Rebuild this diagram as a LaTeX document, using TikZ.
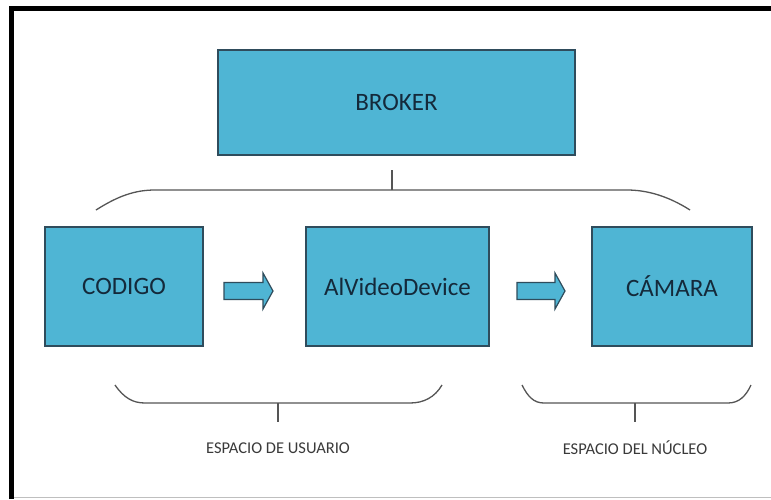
\documentclass[tikz,border=0pt]{standalone}
\usepackage{fontspec}
\setmainfont{Carlito}
\definecolor{boxfill}{HTML}{4FB5D4}
\definecolor{boxline}{HTML}{2F4C5C}
\definecolor{boxtext}{HTML}{14293A}
\definecolor{bracecol}{HTML}{555555}
\definecolor{labeltext}{HTML}{3A3A3A}
\tikzset{
  block/.style={draw=boxline, line width=1.2pt, fill=boxfill, text=boxtext,
    font=\fontsize{25}{30}\selectfont, inner sep=0pt, minimum height=119pt},
  blockarrow/.style={draw=boxline, line width=1.2pt, fill=boxfill, line join=miter},
  brace/.style={draw=bracecol, line width=1.3pt},
  spacelabel/.style={text=labeltext, font=\fontsize{16.5}{20}\selectfont, inner sep=0pt},
}
\begin{document}
\begin{tikzpicture}[x=1pt, y=-1pt]
\useasboundingbox (0,0) rectangle (771,499);
\fill[white] (0,0) rectangle (771,499);
% frame
\draw[black, line width=5pt] (11.5,499) -- (11.5,8) -- (771,8);
\draw[gray!50, line width=1pt] (14,497.5) -- (771,497.5);
% blocks
\node[block, minimum width=357pt, minimum height=105pt] (broker) at (396.5,102.5) {BROKER};
\node[block, minimum width=158pt] (codigo) at (124,286.5) {CODIGO};
\node[block, minimum width=183pt] (alvideo) at (397.5,286.5) {AlVideoDevice};
\node[block, minimum width=160pt] (camara) at (672,286.5) {CÁMARA};
% block arrows
\draw[blockarrow] (224,282.5) -- (263,282.5) -- (263,273) -- (273,291) -- (263,309) -- (263,299.5) -- (224,299.5) -- cycle;
\draw[blockarrow] (517,282.5) -- (555,282.5) -- (555,273) -- (565,291) -- (555,309) -- (555,299.5) -- (517,299.5) -- cycle;
% top brace
\draw[brace] (96,210) .. controls (118,196) and (135,190) .. (155,190) -- (627,190) .. controls (647,190) and (668,196) .. (690,210);
\draw[brace] (392,190) -- (392,170);
% bottom left brace
\draw[brace] (115,385) .. controls (124,398) and (133,403) .. (145,403) -- (410,403) .. controls (424,403) and (435,397) .. (442,385);
\draw[brace] (278,403) -- (278,422);
\node[spacelabel] (usuario) at (278,448) {ESPACIO DE USUARIO};
% bottom right brace
\draw[brace] (522,385) .. controls (528,397) and (534,403) .. (544,403) -- (728,403) .. controls (739,403) and (746,396) .. (751,385);
\draw[brace] (635,403) -- (635,422);
\node[spacelabel] (nucleo) at (635,448) {ESPACIO DEL NÚCLEO};
\end{tikzpicture}
\end{document}
